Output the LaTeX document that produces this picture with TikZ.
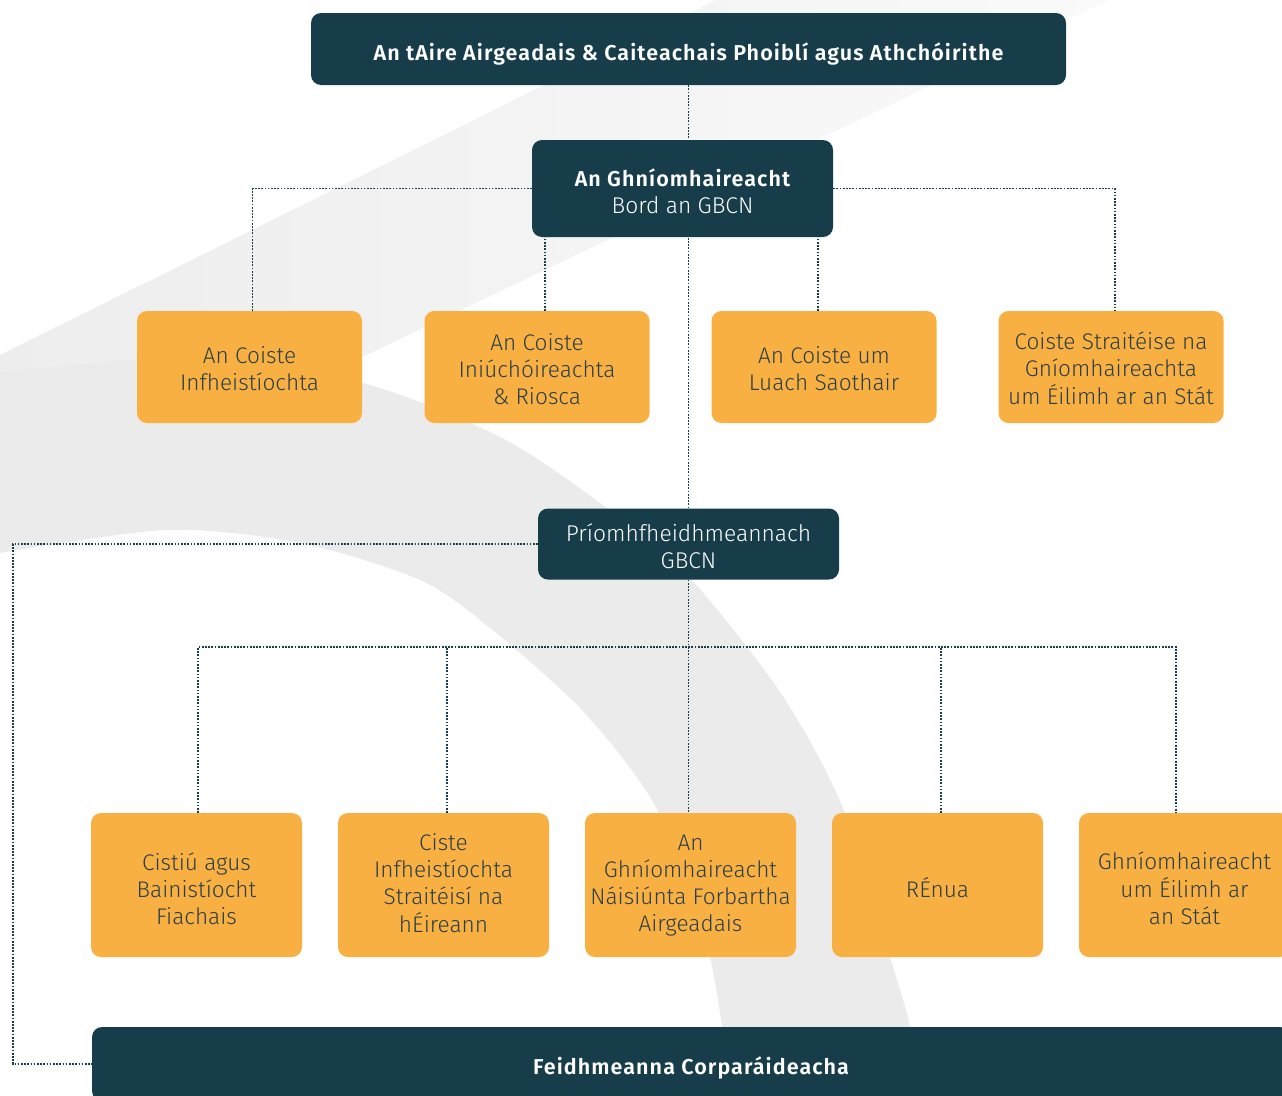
\documentclass[tikz,border=0pt]{standalone}
\usepackage{fontspec}
\setmainfont{Fira Sans Light}
\newfontfamily\semib[LetterSpace=5]{Fira Sans SemiBold}
\usetikzlibrary{calc}
\definecolor{darkteal}{HTML}{173D4B}
\definecolor{boxorange}{HTML}{F9B042}
\definecolor{boxtext}{HTML}{2C3F47}
\definecolor{bgarc}{HTML}{EBEBEB}
\newcommand{\boxlines}[2][6pt]{\raisebox{-#1}[\height][\depth]{\begin{tabular}{@{}c@{}}#2\end{tabular}}}
\begin{document}
\begin{tikzpicture}[x=1pt,y=-1pt,
  darkbox/.style={fill=darkteal, rounded corners=10pt, text=white, inner sep=0pt,
    font=\fontsize{22.8}{27}\selectfont},
  orangebox/.style={fill=boxorange, rounded corners=10pt, text=boxtext, inner sep=0pt,
    font=\fontsize{22.6}{27}\selectfont},
  boldtxt/.style={font=\fontsize{21.5}{27}\selectfont\semib},
  conn/.style={draw=darkteal, line width=1.7pt, dash pattern=on 1.7pt off 1.5pt}]
\useasboundingbox (0,0) rectangle (1282,1095);
\clip (0,0) rectangle (1282,1095);
% background
\shade[left color=black!7, right color=black!2] (716,0) -- (1110,0) -- (0,530) -- (0,355) -- cycle;
\fill[bgarc] plot[smooth] coordinates {(0,373) (200,357) (363,383) (500,437) (600,503) (687,575) (780,692) (843,808) (890,957) (910,1027) (918,1095)}
  -- plot[smooth] coordinates {(727,1095) (722,1027) (710,957) (690,880) (647,792) (580,708) (490,628) (420,580) (300,543) (167,530) (0,553)} -- cycle;
% nodes
\node[darkbox, boldtxt, minimum width=755pt, minimum height=72pt] (top) at (688.5,49) {\boxlines{An tAire Airgeadais \& Caiteachais Phoiblí agus Athchóirithe}};
\node[darkbox, minimum width=301pt, minimum height=97pt] (ghn) at (682.5,188.5) {\boxlines{{\semib\fontsize{21.5}{27}\selectfont An Ghníomhaireacht}\\Bord an GBCN}};
\node[orangebox, minimum width=225pt, minimum height=112pt] (c1) at (249.5,367) {\boxlines[5pt]{An Coiste\\Infheistíochta}};
\node[orangebox, minimum width=225pt, minimum height=112pt] (c2) at (537,367) {\boxlines[5pt]{An Coiste\\Iniúchóireachta\\\& Riosca}};
\node[orangebox, minimum width=225pt, minimum height=112pt] (c3) at (824,367) {\boxlines[5pt]{An Coiste um\\Luach Saothair}};
\node[orangebox, minimum width=225pt, minimum height=112pt] (c4) at (1111,367) {\boxlines[5pt]{Coiste Straitéise na\\Gníomhaireachta\\um Éilimh ar an Stát}};
\node[darkbox, minimum width=301pt, minimum height=71pt] (pri) at (688.5,544) {\boxlines{Príomhfheidhmeannach\\GBCN}};
\node[orangebox, minimum width=211pt, minimum height=144pt] (b6) at (196.5,885) {\boxlines[7pt]{Cistiú agus\\Bainistíocht\\Fiachais}};
\node[orangebox, minimum width=211pt, minimum height=144pt] (b7) at (443.5,885) {\boxlines[1pt]{Ciste\\Infheistíochta\\Straitéisí na\\hÉireann}};
\node[orangebox, minimum width=211pt, minimum height=144pt] (b8) at (690.5,885) {\boxlines[1pt]{An\\Ghníomhaireacht\\Náisiúnta Forbartha\\Airgeadais}};
\node[orangebox, minimum width=211pt, minimum height=144pt] (b9) at (937.5,885) {\boxlines[7pt]{RÉnua}};
\node[orangebox, minimum width=211pt, minimum height=144pt] (b10) at (1184.5,885) {\boxlines[7pt]{Ghníomhaireacht\\um Éilimh ar\\an Stát}};
\node[darkbox, boldtxt, minimum width=1198pt, minimum height=74pt] (feid) at (691,1064) {\boxlines[5pt]{Feidhmeanna Corparáideacha}};
% connectors
\coordinate (leftrail) at (13,800);
\coordinate (bus) at (688,647);
\draw[conn] (top.south) -- (top.south |- ghn.north);
\draw[conn] (pri.north) -- (pri.north |- ghn.south);
\draw[conn] (ghn.west) -| ([xshift=3pt]c1.north);
\draw[conn] (ghn.east) -| ([xshift=4pt]c4.north);
\draw[conn] ([xshift=8pt]c2.north) -- ([xshift=8pt]c2.north |- ghn.south);
\draw[conn] ([xshift=-6pt]c3.north) -- ([xshift=-6pt]c3.north |- ghn.south);
\draw[conn] (pri.west) -| (leftrail) |- (feid.west);
\draw[conn] (pri.south) -- (pri.south |- b8.north);
\draw[conn] ([xshift=1.5pt]b6.north) |- (bus) -| ([xshift=-8.5pt]b10.north);
\draw[conn] ([xshift=3.5pt]b7.north) -- ([xshift=3.5pt]b7.north |- bus);
\draw[conn] ([xshift=3.5pt]b9.north) -- ([xshift=3.5pt]b9.north |- bus);
\end{tikzpicture}
\end{document}
